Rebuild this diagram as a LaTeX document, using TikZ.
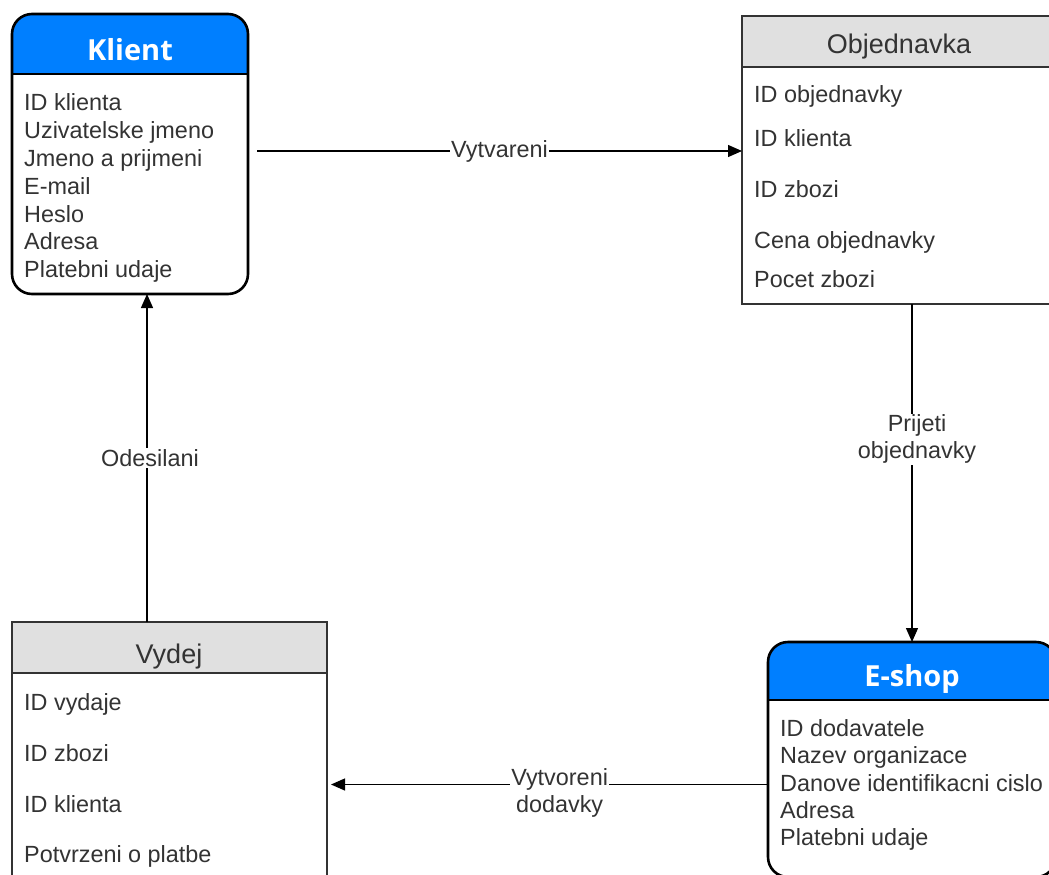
\documentclass[tikz,border=0pt]{standalone}
\usepackage{fontspec}
\setmainfont{Liberation Sans}
\newfontfamily\titlefont{Open Sans}
\usetikzlibrary{arrows.meta}
\definecolor{hdrblue}{HTML}{007FFF}
\definecolor{hdrgray}{HTML}{E0E0E0}
\definecolor{ink}{HTML}{333333}
\begin{document}
\begin{tikzpicture}[x=1pt,y=-1pt,
  item/.style={anchor=base west, inner sep=0pt, text=ink, font=\fontsize{23.4}{28}\selectfont},
  gtitle/.style={anchor=base, inner sep=0pt, text=ink, font=\fontsize{27}{32}\selectfont},
  btitle/.style={anchor=base, inner sep=0pt, text=white, font=\titlefont\bfseries\fontsize{29}{34}\selectfont},
  frame/.style={inner sep=0pt, outer sep=0pt},
  boldline/.style={line width=2.6pt, draw=black},
  thinline/.style={line width=1.4pt, draw=ink},
  link/.style={draw=black, line width=1.3pt, -{Triangle[length=14pt,width=12pt]}},
  tag/.style={fill=white, inner sep=1pt, text=ink, align=center,
              font=\fontsize{23.4}{27}\selectfont},
]
\clip (0,0) rectangle (1049,875);
\fill[white] (0,0) rectangle (1049,875);

% ---------- Klient (rounded, blue header) ----------
\node[frame, minimum width=236pt, minimum height=280pt] (klient) at (130,154) {};
\begin{scope}
  \clip[rounded corners=20pt] (klient.north west) rectangle (klient.south east);
  \fill[hdrblue] (klient.north west) rectangle (klient.east |- 0,74);
\end{scope}
\draw[boldline] (klient.west |- 0,74) -- (klient.east |- 0,74);
\draw[boldline, rounded corners=20pt] (klient.north west) rectangle (klient.south east);
\node[btitle] (klientT) at (130,60) {Klient};
\node[item] (k1) at (24,110) {ID klienta};
\node[item] (k2) at (24,138) {Uzivatelske jmeno};
\node[item] (k3) at (24,166) {Jmeno a prijmeni};
\node[item] (k4) at (24,194) {E-mail};
\node[item] (k5) at (24,222) {Heslo};
\node[item] (k6) at (24,249) {Adresa};
\node[item] (k7) at (24,277) {Platebni udaje};

% ---------- Objednavka (square, grey header) ----------
\node[frame, minimum width=312pt, minimum height=288pt] (objednavka) at (898,160) {};
\fill[hdrgray] (objednavka.north west) rectangle (objednavka.east |- 0,67);
\draw[thinline] (objednavka.west |- 0,67) -- (objednavka.east |- 0,67);
\draw[thinline] (objednavka.north west) rectangle (objednavka.south east);
\node[gtitle] (objT) at (899,53) {Objednavka};
\node[item] (o1) at (754,102) {ID objednavky};
\node[item] (o2) at (754,146) {ID klienta};
\node[item] (o3) at (754,197) {ID zbozi};
\node[item] (o4) at (754,248) {Cena objednavky};
\node[item] (o5) at (754,287) {Pocet zbozi};

% ---------- Vydej (square, grey header) ----------
\node[frame, minimum width=315pt, minimum height=278pt] (vydej) at (169.5,761) {};
\fill[hdrgray] (vydej.north west) rectangle (vydej.east |- 0,673);
\draw[thinline] (vydej.west |- 0,673) -- (vydej.east |- 0,673);
\draw[thinline] (vydej.north west) rectangle (vydej.south east);
\node[gtitle] (vydT) at (169,663) {Vydej};
\node[item] (v1) at (24,710) {ID vydaje};
\node[item] (v2) at (24,761) {ID zbozi};
\node[item] (v3) at (24,812) {ID klienta};
\node[item] (v4) at (24,862) {Potvrzeni o platbe};

% ---------- E-shop (rounded, blue header) ----------
\node[frame, minimum width=288pt, minimum height=235pt] (eshop) at (912,759.5) {};
\begin{scope}
  \clip[rounded corners=20pt] (eshop.north west) rectangle (eshop.south east);
  \fill[hdrblue] (eshop.north west) rectangle (eshop.east |- 0,700);
\end{scope}
\draw[boldline] (eshop.west |- 0,700) -- (eshop.east |- 0,700);
\draw[boldline, rounded corners=20pt] (eshop.north west) rectangle (eshop.south east);
\node[btitle] (eshopT) at (912,686) {E-shop};
\node[item] (e1) at (780,736) {ID dodavatele};
\node[item] (e2) at (780,763) {Nazev organizace};
\node[item] (e3) at (780,791) {Danove identifikacni cislo};
\node[item] (e4) at (780,818) {Adresa};
\node[item] (e5) at (780,845) {Platebni udaje};

% ---------- relations ----------
\draw[link] ([xshift=9pt,yshift=3pt]klient.east) -- ([yshift=9pt]objednavka.west)
  node[tag, pos=0.5] (lVyt) {Vytvareni};

\draw[link] (eshop.north |- objednavka.south) -- (eshop.north)
  node[tag, pos=0.4, xshift=5pt] (lPri) {Prijeti\\objednavky};

\coordinate (odesStart) at ([xshift=-22.5pt]vydej.north);
\draw[link] (odesStart) -- (odesStart |- klient.south)
  node[tag, midway, xshift=3pt] (lOde) {Odesilani};

\coordinate (dodStart) at ([yshift=-25pt]eshop.west);
\draw[link, shorten >=4pt] (dodStart) -- (dodStart -| vydej.east)
  node[tag, pos=0.4725, yshift=-8pt] (lDod) {Vytvoreni\\dodavky};
\end{tikzpicture}
\end{document}
